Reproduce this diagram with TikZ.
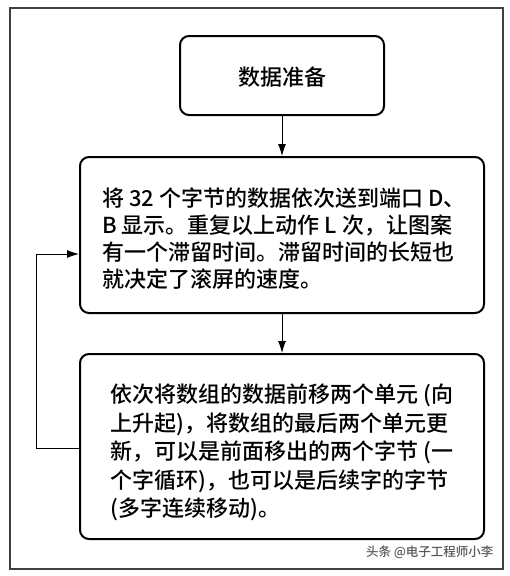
\documentclass[tikz,border=0pt]{standalone}
\usepackage{fontspec}
\setmainfont{Noto Sans CJK SC}[UprightFont=* Medium]
\usetikzlibrary{positioning, calc, arrows.meta}

\begin{document}
\begin{tikzpicture}[x=1pt, y=-1pt,
                    box/.style={draw, line width=2pt, rounded corners=9pt, inner sep=0pt},
                    words/.style={align=left, inner sep=0pt},
                    flow/.style={-{Latex[length=12pt, width=8pt]}, line width=0.9pt}]
                    \useasboundingbox (0,0) rectangle (510,576);
                    \draw[line width=1.4pt, black!75] (10,8) rectangle (503,569);

                    \node[box, minimum width=204pt, minimum height=79pt] (prep) at (282,75.5) {};
                    \node[words, font=\fontsize{22}{27}\selectfont] (prept) at ($(prep.center)+(0,2)$) {数据准备};

                    \node[box, minimum width=404pt, minimum height=156pt] (show) at (282,235) {};
                    \node[words, font=\fontsize{22}{27}\selectfont] (showt) at ($(show.center)+(2,3.5)$)
                        {将 32 个字节的数据依次送到端口 D、\\B 显示。重复以上动作 L 次，让图案\\有一个滞留时间。滞留时间的长短也\\就决定了滚屏的速度。};

                    \node[box, minimum width=404pt, minimum height=185pt] (shift) at (282,446.5) {};
                    \node[words, font=\fontsize{22}{28.6}\selectfont] (shiftt) at ($(shift.center)+(0,6)$)
                        {依次将数组的数据前移两个单元 (向\\上升起)，将数组的最后两个单元更\\新，可以是前面移出的两个字节 (一\\个字循环)，也可以是后续字的字节\\(多字连续移动)。};

                    \draw[flow] (prep) -- (show);
                    \draw[flow] (show) -- (shift);
                    \draw[flow] ([yshift=-1.5pt]shift.west) -- ++(-43,0) |- ([yshift=-19pt]show.west);

                    \node[anchor=east, text=black!65, font=\fontsize{12.5}{15}\selectfont] (mark) at (497,552) {头条 @电子工程师小李};
                \end{tikzpicture}
\end{document}
